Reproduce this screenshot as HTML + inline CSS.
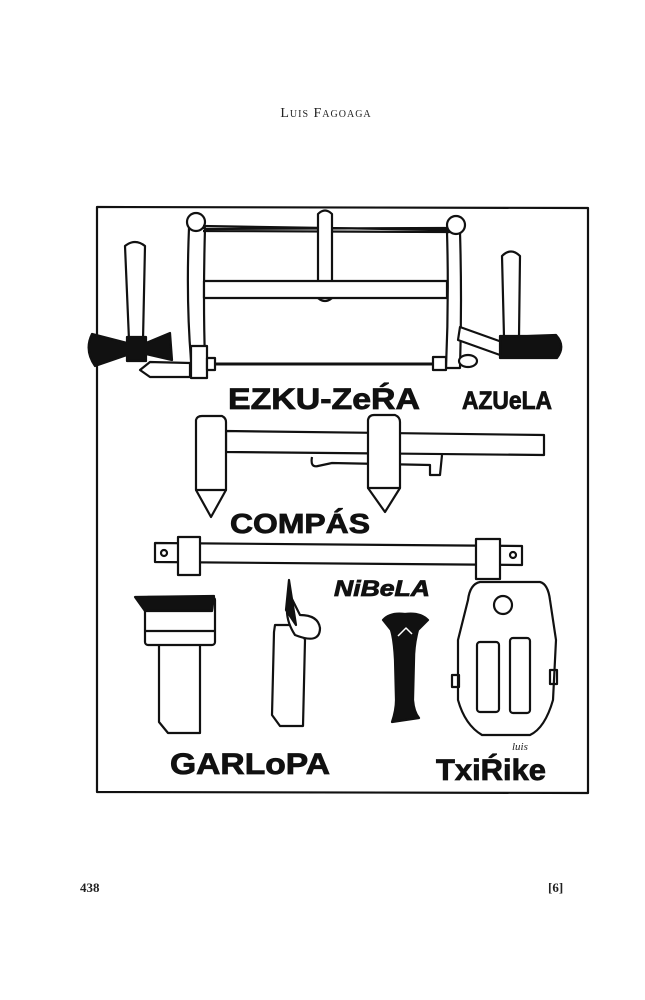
<!DOCTYPE html>
<html><head><meta charset="utf-8"><style>
html,body{margin:0;padding:0;background:#fff;}
body{width:645px;height:1000px;position:relative;overflow:hidden;}
svg{position:absolute;left:0;top:0;}
.t{font-family:"Liberation Serif",serif;fill:#222;}
.l{font-family:"Liberation Sans",sans-serif;font-weight:bold;fill:#111;stroke:#111;stroke-width:0.8;}
</style></head><body>
<svg width="645" height="1000" viewBox="0 0 645 1000">
<text x="326" y="117" text-anchor="middle" class="t" font-size="14" style="font-variant:small-caps;letter-spacing:1px">Luis Fagoaga</text>
<text x="80" y="892" class="t" font-size="13" font-weight="bold">438</text>
<text x="548" y="892" class="t" font-size="13" font-weight="bold">[6]</text>
<g fill="none" stroke="#111" stroke-width="2.2" stroke-linejoin="round">
<path d="M97 207 L588 208 L588 793 L97 792 Z"/>
<!-- saw -->
<path d="M189 228 Q186 300 191 360 L205 360 Q203 300 205 228 Z" fill="#fff"/>
<circle cx="196" cy="222" r="9" fill="#fff"/>
<path d="M447 232 Q449 300 446 368 L460 368 Q462 300 460 232 Z" fill="#fff"/>
<circle cx="456" cy="225" r="9" fill="#fff"/>
<path d="M203 226 L449 230 M203 231 L449 232 M205 229 L447 228"/>
<path d="M318 214 Q325 207 332 214 L332 298 Q325 304 318 298 Z" fill="#fff"/>
<rect x="204" y="281" width="243" height="17" fill="#fff"/>
<path d="M215 364 L433 364" stroke-width="3"/>
<rect x="191" y="346" width="16" height="32" fill="#fff"/>
<rect x="207" y="358" width="8" height="12" fill="#fff"/>
<path d="M140 370 L150 362 L190 363 L190 377 L150 377 Z" fill="#fff"/>
<rect x="433" y="357" width="13" height="13" fill="#fff"/>
<ellipse cx="468" cy="361" rx="9" ry="6" fill="#fff"/>
<!-- left axe -->
<path d="M125 246 Q135 238 145 246 L143 340 L129 340 Z" fill="#fff"/>
<path d="M92 334 L127 343 L127 337 L146 337 L146 343 L170 333 L172 360 L146 354 L146 361 L127 361 L127 355 L95 366 Q84 350 92 334 Z" fill="#111"/>
<!-- right axe -->
<path d="M502 256 Q511 247 520 256 L519 337 L504 337 Z" fill="#fff"/>
<path d="M460 327 L502 342 L500 355 L458 340 Z" fill="#fff"/>
<path d="M500 336 L527 336 L556 335 Q566 346 557 358 L527 358 L500 358 Z" fill="#111"/>
<!-- compas -->
<path d="M226 431 L544 435 L544 455 L226 452 Z" fill="#fff"/>
<path d="M312 457 Q310 468 318 466 L332 463 L430 465 L430 475 L440 475 L442 455" />
<path d="M196 420 Q197 416 202 416 L222 416 Q226 418 226 422 L226 490 L196 490 Z" fill="#fff"/>
<path d="M196 490 L211 517 L226 490"/>
<path d="M368 420 Q369 415 374 415 L395 415 Q400 417 400 422 L400 488 L368 488 Z" fill="#fff"/>
<path d="M368 488 L385 512 L400 488"/>
<!-- level bar -->
<path d="M155 543 L522 546 L522 565 L155 562 Z" fill="#fff"/>
<circle cx="164" cy="553" r="3"/><circle cx="513" cy="555" r="3"/>
<rect x="178" y="537" width="22" height="38" fill="#fff"/>
<rect x="476" y="539" width="24" height="40" fill="#fff"/>
<!-- garlopa -->
<path d="M159 645 L159 722 L168 733 L200 733 L200 645"/>
<rect x="145" y="597" width="70" height="48" rx="3" fill="#fff"/>
<path d="M135 597 L214 596 L212 611 L145 611 Z" fill="#111"/>
<path d="M146 631 L214 631"/>
<!-- plane 2 -->
<path d="M274 632 L272 715 L280 726 L303 726 L305 640 L300 625 L275 625 Z" fill="#fff"/>
<path d="M290 595 Q282 615 295 635 Q320 645 320 628 Q318 615 300 615 Z" fill="#fff"/>
<path d="M289 580 L286 610 L296 625 Z" fill="#111"/>
<!-- nibela -->
<path d="M383 620 Q390 612 405 614 Q420 612 428 620 L418 630 Q414 645 414 660 L413 700 Q414 712 419 718 L392 722 Q396 710 396 700 L395 660 Q394 640 391 630 Z" fill="#111"/>
<path d="M398 636 L406 628 L412 634" stroke="#fff" stroke-width="1.5"/>
<!-- txirike -->
<path d="M480 582 L540 582 Q548 584 550 600 L556 640 L553 700 Q545 728 530 735 L482 735 Q465 725 458 700 L458 640 L468 600 Q470 584 480 582 Z" fill="#fff"/>
<circle cx="503" cy="605" r="9"/>
<rect x="477" y="642" width="22" height="70" rx="3" fill="#fff"/>
<rect x="510" y="638" width="20" height="75" rx="3" fill="#fff"/>
<rect x="452" y="675" width="7" height="12"/><rect x="550" y="670" width="7" height="14"/>
</g>
<text x="228" y="409" class="l" font-size="30" textLength="192" lengthAdjust="spacingAndGlyphs">EZKU-ZeŔA</text>
<text x="462" y="409" class="l" font-size="25" textLength="90" lengthAdjust="spacingAndGlyphs">AZUeLA</text>
<text x="230" y="533" class="l" font-size="28" textLength="140" lengthAdjust="spacingAndGlyphs">COMPÁS</text>
<text x="334" y="596" class="l" font-size="22" font-style="italic" textLength="96" lengthAdjust="spacingAndGlyphs">NiBeLA</text>
<text x="170" y="774" class="l" font-size="30" textLength="160" lengthAdjust="spacingAndGlyphs">GARLoPA</text>
<text x="436" y="780" class="l" font-size="30" textLength="110" lengthAdjust="spacingAndGlyphs">TxiŔike</text>
<text x="512" y="750" class="t" font-size="11" font-style="italic">luis</text>
</svg>
</body></html>
